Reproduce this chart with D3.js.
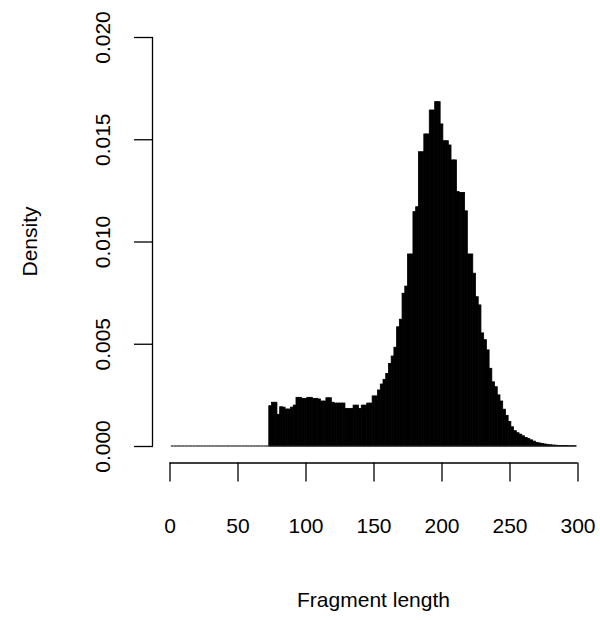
<!DOCTYPE html>
<html>
<head>
<meta charset="utf-8">
<script src="https://cdn.jsdelivr.net/npm/d3@7"></script>
<style>
	body { margin: 0; background: #fff; }
	text { font-family: "Liberation Sans", Arial, sans-serif; fill: #000; }
</style>
</head>
<body>
<div id="chart"></div>
<script>
// histogram of fragment lengths, bins of width 2 starting at 1
var binStart = 1,
	binWidth = 2;

var density = [
	0, 0, 0, 0, 0, 0, 0, 0, 0, 0, 0, 0, 0, 0, 0, 0, 0, 0,
	0, 0, 0, 0, 0, 0, 0, 0, 0, 0, 0, 0, 0, 0, 0, 0, 0, 0,
	0.00197, 0.00214, 0.00214, 0.00155, 0.00192, 0.00190, 0.00181, 0.00181,
	0.00190, 0.00200, 0.00238, 0.00238, 0.00233, 0.00233, 0.00238, 0.00238,
	0.00233, 0.00233, 0.00230, 0.00220, 0.00220, 0.00236, 0.00236, 0.00214,
	0.00210, 0.00210, 0.00210, 0.00210, 0.00184, 0.00184, 0.00184, 0.00200,
	0.00200, 0.00184, 0.00200, 0.00200, 0.00210, 0.00210, 0.00245, 0.00245,
	0.00274, 0.00303, 0.00326, 0.00355, 0.00404, 0.00440, 0.00483, 0.00583,
	0.00620, 0.00747, 0.00782, 0.00939, 0.00939, 0.01146, 0.01170, 0.01439,
	0.01439, 0.01526, 0.01526, 0.01643, 0.01643, 0.01684, 0.01684, 0.01575,
	0.01493, 0.01493, 0.01472, 0.01399, 0.01399, 0.01244, 0.01240, 0.01240,
	0.01150, 0.00939, 0.00939, 0.00845, 0.00730, 0.00690, 0.00553, 0.00520,
	0.00470, 0.00380, 0.00314, 0.00290, 0.00250, 0.00220, 0.00180, 0.00150,
	0.00120, 0.00094, 0.00075, 0.00065, 0.00058, 0.00050, 0.00042, 0.00036,
	0.00030, 0.00024, 0.00018, 0.00015, 0.00012, 0.00010, 0.00008, 0.00006,
	0.00005, 0.00004, 0.00003, 0.00003, 0.00002, 0.00002, 0.00001, 0.00001,
	0.00001
];

var xTicks = [0, 50, 100, 150, 200, 250, 300],
	yTicks = [0, 0.005, 0.010, 0.015, 0.020];

var xLabel = "Fragment length",
	yLabel = "Density";

var width = 600,
	height = 620,
	fontSize = "21px";

var x = d3.scaleLinear().domain([0, 300]).range([169.5, 577.5]),
	y = d3.scaleLinear().domain([0, 0.02]).range([446, 37]);

var bins = density.map(function(d, i) {
	return { x0: binStart + i * binWidth, x1: binStart + (i + 1) * binWidth, value: d };
});

var svg = d3.select("#chart")
	.append("svg")
	.attr("width", width)
	.attr("height", height);

var bars = svg.append("g");

bars.selectAll("rect")
	.data(bins)
	.enter().append("rect")
	.attr("x", function(d) { return x(d.x0); })
	.attr("width", function(d) { return x(d.x1) - x(d.x0); })
	.attr("y", function(d) { return y(d.value); })
	.attr("height", function(d) { return y(0) - y(d.value); })
	.style("fill", "#000")
	.style("stroke", "#000")
	.style("stroke-width", 0.8);

// bottom border of every bin, so empty bins still show a line on zero
bars.selectAll("line")
	.data(bins)
	.enter().append("line")
	.attr("x1", function(d) { return x(d.x0); })
	.attr("x2", function(d) { return x(d.x1); })
	.attr("y1", y(0))
	.attr("y2", y(0))
	.style("stroke", "#222")
	.style("stroke-width", 1.2);

// x axis, drawn R style below the plot
var xAxis = svg.append("g")
	.attr("transform", "translate(0, 462.5)")
	.call(d3.axisBottom(x).tickValues(xTicks).tickSize(19).tickSizeOuter(0));
xAxis.select(".domain").attr("d", "M" + x(0) + ",0.5H" + x(300));
xAxis.selectAll("line").attr("stroke", "#000").attr("stroke-width", 1.3);
xAxis.select(".domain").attr("stroke", "#000").attr("stroke-width", 1.3);
xAxis.selectAll("text")
	.style("font-size", fontSize)
	.attr("dy", null)
	.attr("y", 70);

// y axis
var yAxis = svg.append("g")
	.attr("transform", "translate(153, 0)")
	.call(d3.axisLeft(y).tickValues(yTicks).tickSize(19).tickSizeOuter(0).tickFormat(d3.format(".3f")));
yAxis.select(".domain").attr("d", "M-0.5," + y(0) + "V" + y(0.02));
yAxis.selectAll("line").attr("stroke", "#000").attr("stroke-width", 1.3);
yAxis.select(".domain").attr("stroke", "#000").attr("stroke-width", 1.3);
yAxis.selectAll("text")
	.style("font-size", fontSize)
	.attr("x", null)
	.attr("dy", null)
	.attr("text-anchor", "middle")
	.attr("transform", "translate(-43, 0) rotate(-90)");

svg.append("text")
	.attr("x", x(150))
	.attr("y", 607)
	.attr("text-anchor", "middle")
	.style("font-size", fontSize)
	.text(xLabel);

svg.append("text")
	.attr("transform", "translate(37, " + y(0.01) + ") rotate(-90)")
	.attr("text-anchor", "middle")
	.style("font-size", fontSize)
	.text(yLabel);
</script>
</body>
</html>
